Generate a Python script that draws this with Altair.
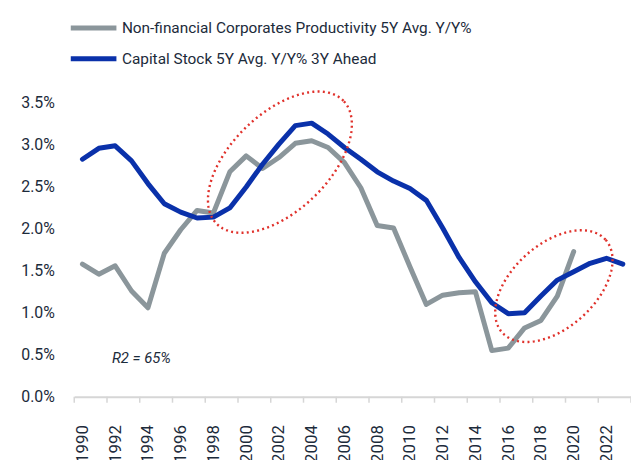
import altair as alt
import pandas as pd
import numpy as np

# ---- data ----
years = list(range(1990, 2024))
capital_stock = [2.83, 2.96, 2.99, 2.81, 2.54, 2.30, 2.20, 2.13, 2.14, 2.25,
                 2.50, 2.77, 3.01, 3.23, 3.26, 3.13, 2.97, 2.83, 2.68, 2.57,
                 2.48, 2.34, 2.01, 1.66, 1.37, 1.12, 0.99, 1.00, 1.20, 1.39,
                 1.49, 1.59, 1.65, 1.58]
prod_years = list(range(1990, 2021))
productivity = [1.58, 1.46, 1.56, 1.26, 1.06, 1.71, 1.99, 2.22, 2.19, 2.68,
                2.87, 2.72, 2.85, 3.02, 3.05, 2.97, 2.79, 2.49, 2.04, 2.01,
                1.55, 1.10, 1.21, 1.24, 1.25, 0.55, 0.58, 0.82, 0.91, 1.20,
                1.73]

S_PROD = "Non-financial Corporates Productivity 5Y Avg. Y/Y%"
S_CAP = "Capital Stock 5Y Avg. Y/Y% 3Y Ahead"
series_names = [S_PROD, S_CAP]
series_colors = ["#8b969b", "#0a31aa"]

y_ticks = [0.0, 0.5, 1.0, 1.5, 2.0, 2.5, 3.0, 3.5]
x_labels = list(range(1990, 2023, 2))
x_tick_bounds = [1989.5 + 2 * k for k in range(18)]

annotation_text = ["R2 = 65%"]
annotation_year = [1991.8]
annotation_value = [0.46]

# highlight ellipses: centre (year, value), semi-axes (px), tilt (deg)
ell_center_year = [2002.06, 2018.79]
ell_center_val = [2.795, 1.318]
ell_a_px = [89, 70]
ell_b_px = [49, 42]
ell_angle = [44, 42]

TEXT = "#1c2b3b"
FONT = "Roboto"
AXIS_GREY = "#d6d6d6"

W, H = 561, 296
X_DOMAIN = [1989.5, 2023.5]
Y_DOMAIN = [0, 3.5]
PX_PER_YEAR = W / (X_DOMAIN[1] - X_DOMAIN[0])
PX_PER_PCT = H / (Y_DOMAIN[1] - Y_DOMAIN[0])

df = pd.concat([
    pd.DataFrame({"year": prod_years, "value": productivity, "series": S_PROD}),
    pd.DataFrame({"year": years, "value": capital_stock, "series": S_CAP}),
])

rows = []
for i in range(len(ell_center_year)):
    th = np.radians(ell_angle[i])
    for k, t in enumerate(np.linspace(0, 2 * np.pi, 241)):
        dx = ell_a_px[i] * np.cos(t) * np.cos(th) - ell_b_px[i] * np.sin(t) * np.sin(th)
        dy = ell_a_px[i] * np.cos(t) * np.sin(th) + ell_b_px[i] * np.sin(t) * np.cos(th)
        rows.append({"e": i, "k": k,
                     "year": ell_center_year[i] + dx / PX_PER_YEAR,
                     "value": ell_center_val[i] + dy / PX_PER_PCT})
ell_df = pd.DataFrame(rows)

x_scale = alt.Scale(domain=X_DOMAIN, nice=False, zero=False)
y_scale = alt.Scale(domain=Y_DOMAIN, nice=False)

x_axis = alt.Axis(
    values=x_labels, format="d", tickCount=100,
    labelAngle=270, labelFlush=False, labelOverlap=False, labelBound=False,
    labelFont=FONT, labelFontSize=17, labelColor=TEXT, labelPadding=28,
    ticks=False, domainColor=AXIS_GREY, domainWidth=2, grid=False, title=None,
)
y_axis = alt.Axis(
    values=y_ticks, tickCount=100,
    labelExpr="format(datum.value, '.1f') + '%'",
    labelFont=FONT, labelFontSize=16, labelColor=TEXT, labelPadding=20,
    domain=False, ticks=False, grid=False, title=None,
)

lines = alt.Chart(df).mark_line(strokeWidth=5, strokeCap="round", strokeJoin="round").encode(
    x=alt.X("year:Q", scale=x_scale, axis=x_axis),
    y=alt.Y("value:Q", scale=y_scale, axis=y_axis),
    color=alt.Color("series:N",
                    scale=alt.Scale(domain=series_names, range=series_colors),
                    sort=series_names,
                    legend=alt.Legend(
                        orient="none", legendX=-6, legendY=-91, title=None,
                        symbolType="stroke", symbolSize=2116, symbolStrokeWidth=5,
                        labelFont=FONT, labelFontSize=15.5, labelColor=TEXT,
                        labelOffset=3, rowPadding=0, clipHeight=31, padding=0,
                        labelLimit=600)),
    detail="series:N",
)

# category-boundary tick marks below the x axis line
ticks = alt.Chart(pd.DataFrame({"year": x_tick_bounds})).mark_rule(
    color=AXIS_GREY, strokeWidth=1.5
).encode(
    x=alt.X("year:Q", scale=x_scale),
    y=alt.value(H),
    y2=alt.value(H + 6),
)

ellipses = alt.Chart(ell_df).mark_line(
    color="#e0312b", strokeWidth=2.4, strokeDash=[2, 3.3], strokeCap="butt"
).encode(
    x=alt.X("year:Q", scale=x_scale),
    y=alt.Y("value:Q", scale=y_scale),
    detail="e:N",
    order="k:Q",
)

ann = alt.Chart(pd.DataFrame({"t": annotation_text, "year": annotation_year,
                              "value": annotation_value})).mark_text(
    align="left", baseline="middle", font=FONT, fontSize=15, fontStyle="italic",
    color=TEXT
).encode(
    x=alt.X("year:Q", scale=x_scale),
    y=alt.Y("value:Q", scale=y_scale),
    text="t:N",
)

chart = alt.layer(lines, ticks, ellipses, ann).properties(
    width=W, height=H,
    autosize=alt.AutoSizeParams(type="none"),
    padding={"left": 66.75, "top": 94, "right": 0, "bottom": 62},
).configure_view(stroke=None).configure_axis(labelOverlap=False)

chart.save("out.html", embed_options={"renderer": "svg", "actions": False})
